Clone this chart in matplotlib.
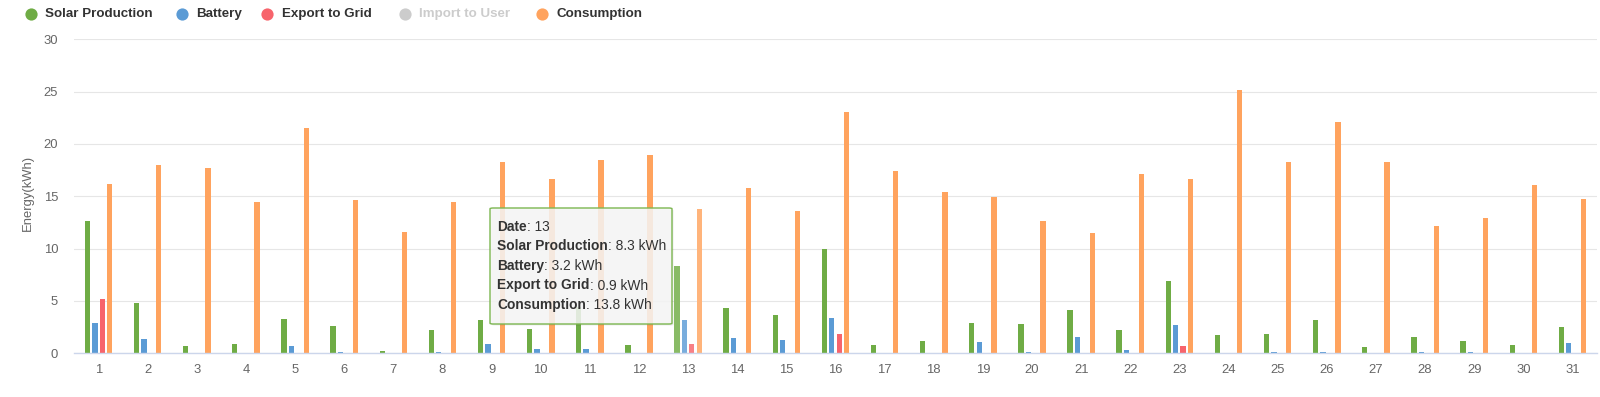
import matplotlib
matplotlib.use('Agg')
import matplotlib.pyplot as plt
import numpy as np
from matplotlib.lines import Line2D
from matplotlib.patches import FancyBboxPatch
import matplotlib.colors as mcolors

plt.rcParams['font.family'] = ['Liberation Sans', 'DejaVu Sans']

# ---------------- data ----------------
days = list(range(1, 32))
solar = [12.65, 4.8, 0.7, 0.9, 3.3, 2.65, 0.2, 2.25, 3.2, 2.35, 4.4, 0.8, 8.3, 4.35, 3.7, 9.95,
         0.75, 1.15, 2.9, 2.8, 4.1, 2.25, 6.9, 1.75, 1.85, 3.15, 0.6, 1.6, 1.2, 0.8, 2.55]
battery = [2.9, 1.4, 0, 0, 0.65, 0.15, 0, 0.15, 0.9, 0.45, 0.4, 0, 3.2, 1.5, 1.25, 3.35,
           0.05, 0.05, 1.05, 0.1, 1.6, 0.3, 2.75, 0, 0.15, 0.15, 0, 0.15, 0.15, 0, 1.0]
export = [5.2, 0.05, 0, 0, 0, 0, 0, 0, 0.05, 0.05, 0, 0, 0.9, 0.05, 0, 1.8,
          0, 0, 0.05, 0, 0.05, 0, 0.7, 0, 0, 0, 0, 0, 0, 0, 0.05]
consumption = [16.15, 18.0, 17.7, 14.5, 21.55, 14.65, 11.6, 14.5, 18.25, 16.7, 18.45, 18.95, 13.8,
               15.75, 13.6, 23.1, 17.4, 15.4, 14.95, 12.6, 11.5, 17.1, 16.7, 25.2, 18.3, 22.1,
               18.3, 12.2, 12.95, 16.1, 14.7]
series_names = ["Solar Production", "Battery", "Export to Grid", "Import to User", "Consumption"]
series_colors = ["#6fac45", "#5b9bd5", "#f7646c", "#cccccc", "#ffa35e"]
series_visible = [True, True, True, False, True]
hover_day = 13
y_ticks = [0, 5, 10, 15, 20, 25, 30]
y_label = "Energy(kWh)"

W, H = 1600, 397
fig = plt.figure(figsize=(W / 100, H / 100), dpi=100)


def fx(px):
    return px / W


def fy(py):
    return 1 - py / H


ax_left, ax_right, ax_top, ax_bottom = 74, 1597, 39.3, 353.3
ax = fig.add_axes([fx(ax_left), fy(ax_bottom), fx(ax_right - ax_left), (ax_bottom - ax_top) / H])

visible_data = [solar, battery, export, consumption]
visible_colors = [c for c, v in zip(series_colors, series_visible) if v]
n = len(visible_data)
slot = 0.151
bw = 0.108
x = np.array(days, dtype=float)


def lighten(c, amt=0.18):
    r, g, b = mcolors.to_rgb(c)
    return (r + (1 - r) * amt, g + (1 - g) * amt, b + (1 - b) * amt)


for i, (vals, col) in enumerate(zip(visible_data, visible_colors)):
    off = (i - (n - 1) / 2) * slot
    cols = [lighten(col) if d == hover_day else col for d in days]
    ax.bar(x + off, vals, width=bw, color=cols, linewidth=0, zorder=2)

ax.set_xlim(0.5, 31.5)
ax.set_ylim(0, 30)
ax.set_yticks(y_ticks)
ax.set_xticks(days)
ax.set_xticklabels([str(d) for d in days])
ax.grid(axis='y', color='#e6e6e6', linewidth=0.8, zorder=0)
ax.set_axisbelow(True)
for s in ['top', 'right', 'left']:
    ax.spines[s].set_visible(False)
ax.spines['bottom'].set_color('#ccd6eb')
ax.spines['bottom'].set_linewidth(1.0)
ax.spines['bottom'].set_zorder(3)
ax.tick_params(axis='y', length=0, pad=11.5, labelsize=9.4, labelcolor='#666666')
ax.tick_params(axis='x', length=0, pad=7.5, labelsize=9.4, labelcolor='#666666')

fig.text(fx(28), fy(193), y_label, rotation=90, ha='center', va='center',
         fontsize=9.4, color='#666666')

# ---------------- legend ----------------
leg_circle_x = [30.6, 181.6, 267.3, 405.0, 541.8]
leg_y = 14.3
for name, col, vis, cx in zip(series_names, series_colors, series_visible, leg_circle_x):
    fig.add_artist(Line2D([fx(cx)], [fy(leg_y)], marker='o', markersize=8.8,
                          markerfacecolor=col, markeredgewidth=0, linestyle='none',
                          transform=fig.transFigure))
    fig.text(fx(cx + 14.3), fy(leg_y), name, ha='left', va='center', fontsize=9.6,
             fontweight='bold', color='#333333' if vis else '#cccccc')

# ---------------- tooltip ----------------
idx = days.index(hover_day)
tip_lines = [("Date", f"{hover_day}"),
             ("Solar Production", f"{solar[idx]:.1f} kWh"),
             ("Battery", f"{battery[idx]:.1f} kWh"),
             ("Export to Grid", f"{export[idx]:.1f} kWh"),
             ("Consumption", f"{consumption[idx]:.1f} kWh")]
bx0, by0, bx1, by1 = 490, 208, 672, 324
shadow = FancyBboxPatch((fx(bx0 + 1.5), fy(by1 + 1.5)), fx(bx1 - bx0), (by1 - by0) / H,
                        boxstyle="round,pad=0,rounding_size=0.002",
                        transform=fig.transFigure, facecolor='#000000', alpha=0.08,
                        edgecolor='none', zorder=9)
fig.add_artist(shadow)
box = FancyBboxPatch((fx(bx0), fy(by1)), fx(bx1 - bx0), (by1 - by0) / H,
                     boxstyle="round,pad=0,rounding_size=0.002",
                     transform=fig.transFigure, facecolor=(0.97, 0.97, 0.97, 0.85),
                     edgecolor='#7cb650', linewidth=1.0, zorder=10)
fig.add_artist(box)
renderer = fig.canvas.get_renderer()
line_y = [226.7, 246.5, 266.0, 285.5, 305.0]
tx = 497.5
for (lab, val), ly in zip(tip_lines, line_y):
    t = fig.text(fx(tx), fy(ly), lab, ha='left', va='center', fontsize=9.9,
                 fontweight='bold', color='#333333', zorder=11)
    bb = t.get_window_extent(renderer=renderer)
    fig.text(bb.x1 / W, fy(ly), f": {val}", ha='left', va='center', fontsize=9.9,
             color='#333333', zorder=11)

fig.savefig('out.png', dpi=100)
